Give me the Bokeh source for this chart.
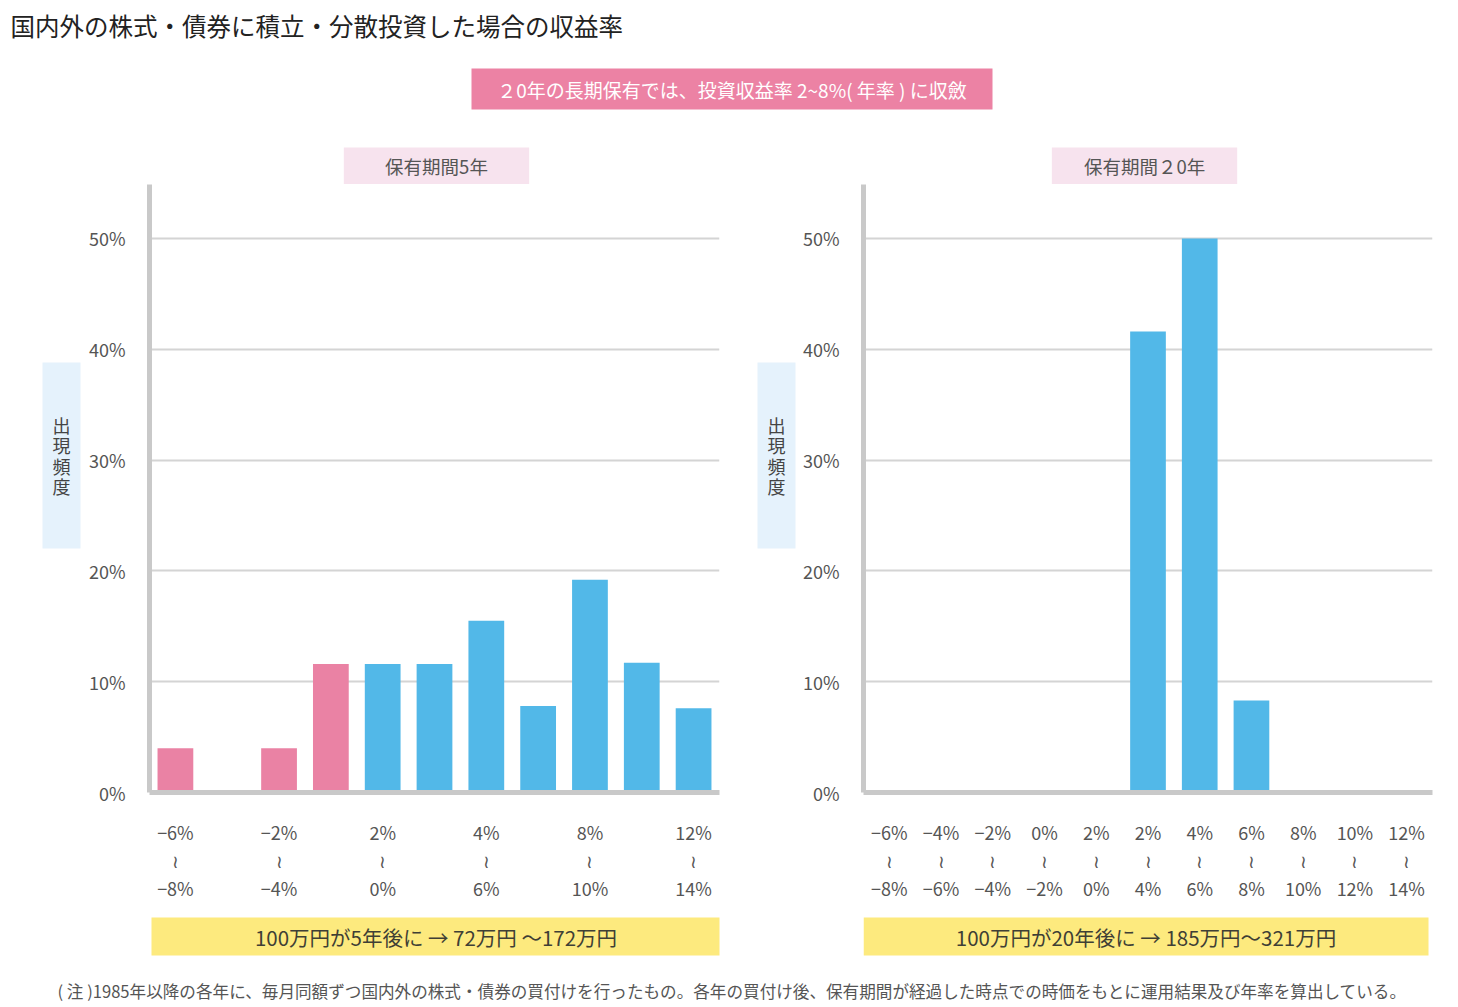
from bokeh.plotting import figure
from bokeh.models import Range1d, FixedTicker, PrintfTickFormatter, ColumnDataSource
from bokeh.layouts import column, row
from bokeh.embed import file_html
from bokeh.resources import INLINE
from bokeh.core.properties import value

# ---------------- data ----------------
categories = ["-8~-6", "-6~-4", "-4~-2", "-2~0", "0~2", "2~4",
              "4~6", "6~8", "8~10", "10~12", "12~14"]
loss_categories = ["-8~-6", "-6~-4", "-4~-2", "-2~0"]
freq_5y = [4.0, 0.0, 4.0, 11.6, 11.6, 11.6, 15.5, 7.8, 19.2, 11.7, 7.6]
freq_20y = [0.0, 0.0, 0.0, 0.0, 0.0, 41.6, 50.0, 8.3, 0.0, 0.0, 0.0]
y_ticks = [0, 10, 20, 30, 40, 50]

tick_labels_5y = {
    "-8~-6": ("−6%", "−8%"),
    "-4~-2": ("−2%", "−4%"),
    "0~2": ("2%", "0%"),
    "4~6": ("4%", "6%"),
    "8~10": ("8%", "10%"),
    "12~14": ("12%", "14%"),
}
tick_labels_20y = {
    "-8~-6": ("−6%", "−8%"),
    "-6~-4": ("−4%", "−6%"),
    "-4~-2": ("−2%", "−4%"),
    "-2~0": ("0%", "−2%"),
    "0~2": ("2%", "0%"),
    "2~4": ("2%", "4%"),
    "4~6": ("4%", "6%"),
    "6~8": ("6%", "8%"),
    "8~10": ("8%", "10%"),
    "10~12": ("10%", "12%"),
    "12~14": ("12%", "14%"),
}

title_text = "国内外の株式・債券に積立・分散投資した場合の収益率"
banner_text = "２0年の長期保有では、投資収益率 2~8%( 年率 ) に収斂"
subtitle_5y = "保有期間5年"
subtitle_20y = "保有期間２0年"
ylabel_text = "出\n現\n頻\n度"
result_5y = "100万円が5年後に → 72万円 〜172万円"
result_20y = "100万円が20年後に → 185万円〜321万円"
footnote = ("( 注 )1985年以降の各年に、毎月同額ずつ国内外の株式・債券の買付けを行ったもの。"
            "各年の買付け後、保有期間が経過した時点での時価をもとに運用結果及び年率を算出している。")

# ---------------- styles ----------------
FONT = "Noto Sans CJK JP"
PINK = "#ea82a4"
BLUE = "#52b8e8"
AXIS_GRAY = "#c9c9c9"
GRID_GRAY = "#d4d4d4"
TEXT = "#555555"
W, H = 1458, 1007
HEADER_H, FOOTER_H = 130, 42
SUB_H, PLOT_H, RES_H = 54, 721, 60
BAND_H = SUB_H + PLOT_H + RES_H
YLAB_W_LEFT, YLAB_W_RIGHT = 85, 70
COL_W_LEFT = W // 2 - YLAB_W_LEFT
COL_W_RIGHT = W - W // 2 - YLAB_W_RIGHT
BORDER_L = 62


def deco(width, height, bl=0, br=0):
    # local pixel coordinates; frame spans [bl, width - br]
    f = figure(width=width, height=height, x_range=Range1d(bl, width - br),
               y_range=Range1d(height, 0), output_backend="svg",
               toolbar_location=None, min_border=0,
               min_border_left=bl, min_border_right=br)
    f.axis.visible = False
    f.grid.grid_line_color = None
    f.outline_line_color = None
    return f


def box_text(f, l, r, t, b, fill, text, size, color, line_height=1.2):
    f.quad(left=[l], right=[r], top=[t], bottom=[b], fill_color=fill, line_color=None)
    f.text(x=[(l + r) / 2], y=[(t + b) / 2], text=[text], text_align="center",
           text_baseline="middle", text_font=value(FONT), text_font_size=size,
           text_color=color, text_line_height=line_height)


def chart(values, labels, width, border_right):
    idx = list(range(len(categories)))
    p = figure(width=width, height=PLOT_H,
               x_range=Range1d(-0.5, len(categories) - 0.5),
               y_range=Range1d(0, 54.87),
               output_backend="svg", toolbar_location=None,
               min_border_left=BORDER_L, min_border_right=border_right,
               min_border_top=0, min_border_bottom=PLOT_H - 608)
    p.outline_line_color = None

    colors = [PINK if c in loss_categories else BLUE for c in categories]
    src = ColumnDataSource(dict(x=idx, top=values, color=colors))
    p.vbar(x="x", top="top", width=0.69, fill_color="color", line_color=None, source=src)

    p.yaxis.ticker = FixedTicker(ticks=y_ticks)
    p.yaxis.formatter = PrintfTickFormatter(format="%d%%")
    p.yaxis.axis_line_color = AXIS_GRAY
    p.yaxis.axis_line_width = 5
    p.yaxis.major_tick_line_color = None
    p.yaxis.minor_tick_line_color = None
    p.yaxis.major_label_text_font = FONT
    p.yaxis.major_label_text_font_size = "18px"
    p.yaxis.major_label_text_color = TEXT
    p.yaxis.major_label_standoff = 18

    labeled = [i for i, c in zip(idx, categories) if c in labels]
    p.xaxis.ticker = FixedTicker(ticks=labeled)
    p.xaxis.major_label_overrides = {
        i: f"{labels[c][0]}\n≀\n{labels[c][1]}" for i, c in zip(idx, categories) if c in labels
    }
    p.xaxis.axis_line_color = AXIS_GRAY
    p.xaxis.axis_line_width = 5
    p.xaxis.major_tick_line_color = None
    p.xaxis.minor_tick_line_color = None
    p.xaxis.major_label_text_font = FONT
    p.xaxis.major_label_text_font_size = "18px"
    p.xaxis.major_label_text_color = TEXT
    p.xaxis.major_label_text_line_height = 1.09
    p.xaxis.major_label_standoff = 20

    p.xgrid.grid_line_color = None
    p.ygrid.grid_line_color = GRID_GRAY
    p.ygrid.grid_line_width = 2
    return p


def panel(values, labels, subtitle, result, col_w, ylab_w, border_right,
          sub_l, sub_r, res_l, res_r, ylab_l, ylab_r):
    ylab = deco(ylab_w, BAND_H)
    box_text(ylab, ylab_l, ylab_r, 232, 418, "#e5f2fc", ylabel_text, "18px", "#444444", 0.78)
    sub = deco(col_w, SUB_H, BORDER_L, border_right)
    box_text(sub, sub_l, sub_r, 17, 54, "#f7e3ee", subtitle, "18.5px", TEXT)
    p = chart(values, labels, col_w, border_right)
    res = deco(col_w, RES_H, BORDER_L, border_right)
    box_text(res, res_l, res_r, 12, 50, "#fdea7e", result, "20.5px", "#3f3f35")
    return row(ylab, column(sub, p, res))


left = panel(freq_5y, tick_labels_5y, subtitle_5y, result_5y, COL_W_LEFT, YLAB_W_LEFT, 10,
             257, 443, 64, 635, 42, 80)
right = panel(freq_20y, tick_labels_20y, subtitle_20y, result_20y, COL_W_RIGHT, YLAB_W_RIGHT, 26,
              251, 437, 62, 629, 28, 66)

header = deco(W, HEADER_H)
header.text(x=[10], y=[25], text=[title_text], text_baseline="middle",
            text_font=value(FONT), text_font_size="24.5px", text_color="#222222")
box_text(header, 471, 992, 68, 109, "#ec82a4", banner_text, "19px", "white")

footer = deco(W, FOOTER_H)
footer.text(x=[57], y=[25], text=[footnote], text_baseline="middle",
            text_font=value(FONT), text_font_size="16.6px", text_color=TEXT)

layout = column(header, row(left, right), footer)
open("out.html", "w").write(file_html(layout, INLINE))
